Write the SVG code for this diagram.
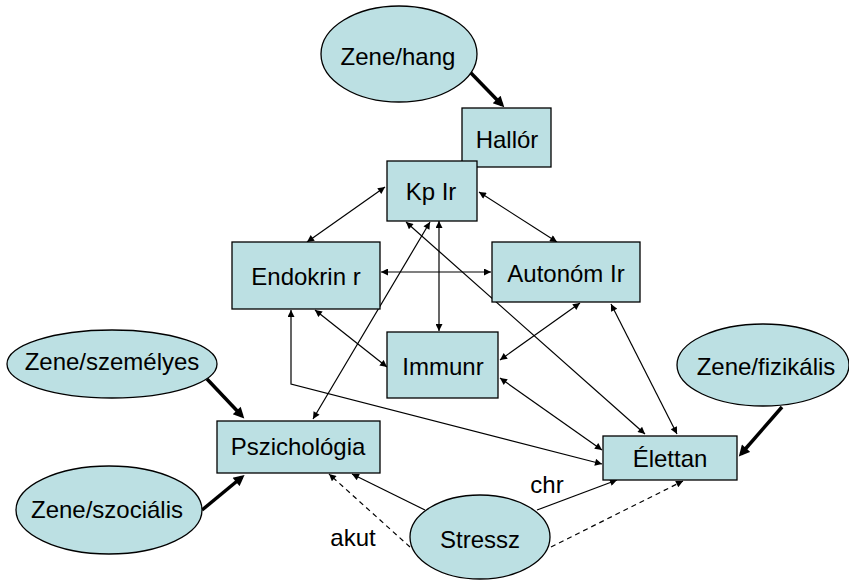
<svg xmlns="http://www.w3.org/2000/svg" width="849" height="581" viewBox="0 0 849 581">
<defs>
<marker id="a" viewBox="0 0 10 10" refX="10" refY="5" markerUnits="userSpaceOnUse" markerWidth="9" markerHeight="7" orient="auto-start-reverse"><path d="M0,0 L10,5 L0,10 z" fill="#000"/></marker>
<marker id="t" viewBox="0 0 10 10" refX="7" refY="5" markerUnits="userSpaceOnUse" markerWidth="13" markerHeight="11" orient="auto"><path d="M0,0 L10,5 L0,10 z" fill="#000"/></marker>
</defs>
<style>
.n rect,.n ellipse{fill:#BCE0E3;stroke:#000;stroke-width:1.3}
.n text,.lbl{font-family:"Liberation Sans",Arial,sans-serif;font-size:24px;font-weight:normal;fill:#000;text-anchor:middle}
.c{stroke:#000;stroke-width:1.2;fill:none}
.d{marker-start:url(#a);marker-end:url(#a)}
.s{marker-end:url(#a)}
.k{stroke:#000;stroke-width:3.5;fill:none;marker-end:url(#t)}
.dash{stroke-dasharray:5,4}
</style>
<g id="connectors">
<line class="k" x1="470" y1="72" x2="502" y2="105"/>
<line class="k" x1="782" y1="407" x2="741" y2="454"/>
<line class="k" x1="207" y1="379" x2="242" y2="416"/>
<line class="k" x1="202" y1="510" x2="242" y2="477"/>
<line class="c d" x1="385" y1="187" x2="307" y2="242"/>
<line class="c d" x1="479" y1="192" x2="557" y2="242"/>
<line class="c d" x1="439" y1="221" x2="439" y2="331"/>
<line class="c d" x1="430" y1="222" x2="313" y2="419"/>
<line class="c d" x1="406" y1="222" x2="645" y2="434"/>
<line class="c d" x1="381" y1="272" x2="491" y2="272"/>
<line class="c d" x1="315" y1="310" x2="387" y2="367"/>
<line class="c d" x1="580" y1="303" x2="500" y2="360"/>
<line class="c d" x1="611" y1="304" x2="677" y2="434"/>
<line class="c d" x1="500" y1="378" x2="602" y2="450"/>
<polyline class="c d" points="291,310 291,384 602,464"/>
<line class="c s" x1="425" y1="510" x2="352" y2="474"/>
<line class="c s dash" x1="410" y1="547" x2="329" y2="474"/>
<line class="c s" x1="537" y1="510" x2="617" y2="480"/>
<line class="c s dash" x1="551" y1="547" x2="683" y2="481"/>
</g>
<g id="zene-hang" class="n"><ellipse cx="399" cy="54" rx="78" ry="48"/><text x="398" y="65">Zene/hang</text></g>
<g id="hallor" class="n"><rect x="462" y="108" width="89" height="59"/><text x="507" y="148">Hallór</text></g>
<g id="kp-ir" class="n"><rect x="387" y="161" width="90" height="60"/><text x="431" y="200">Kp Ir</text></g>
<g id="endokrin" class="n"><rect x="232" y="242" width="148" height="67"/><text x="306" y="285">Endokrin r</text></g>
<g id="autonom" class="n"><rect x="492" y="242" width="148" height="60"/><text x="566" y="282">Autonóm Ir</text></g>
<g id="immunr" class="n"><rect x="387" y="332" width="111" height="66"/><text x="443" y="375">Immunr</text></g>
<g id="zene-fizikalis" class="n"><ellipse cx="763" cy="365" rx="86" ry="41"/><text x="766" y="375">Zene/fizikális</text></g>
<g id="elettan" class="n"><rect x="603" y="436" width="134" height="44"/><text x="670" y="467">Élettan</text></g>
<g id="zene-szemelyes" class="n"><ellipse cx="112" cy="364" rx="105" ry="34"/><text x="112" y="370">Zene/személyes</text></g>
<g id="pszichologia" class="n"><rect x="217" y="421" width="163" height="52"/><text x="298" y="455">Pszichológia</text></g>
<g id="zene-szocialis" class="n"><ellipse cx="109" cy="510" rx="93" ry="44"/><text x="107" y="518">Zene/szociális</text></g>
<g id="stressz" class="n"><ellipse cx="480" cy="537" rx="70" ry="42"/><text x="480" y="548">Stressz</text></g>
<text class="lbl" x="547" y="493">chr</text>
<text class="lbl" x="353" y="546">akut</text>
</svg>
